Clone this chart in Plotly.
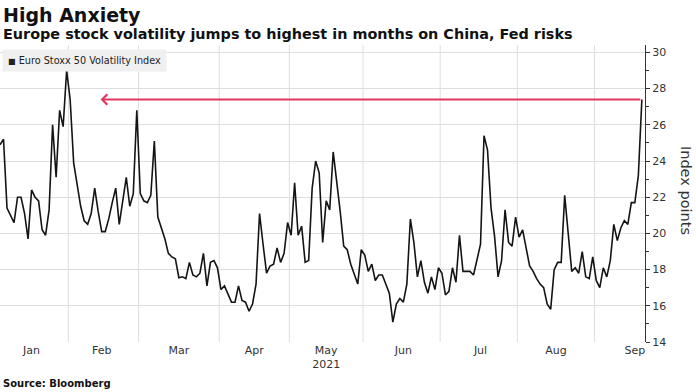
import pandas as pd
import plotly.graph_objects as go

# ---- data -------------------------------------------------------------
title_text = "High Anxiety"
subtitle_text = "Europe stock volatility jumps to highest in months on China, Fed risks"
series_name = "Euro Stoxx 50 Volatility Index"
source_text = "Source: Bloomberg"
y_title = "Index points"

# Eurex trading days Jan 4 - Sep 20, 2021 (Easter holidays removed)
holidays = ["2021-04-02", "2021-04-05"]
dates = [d for d in pd.bdate_range("2021-01-04", "2021-09-20")
         if d.strftime("%Y-%m-%d") not in holidays]

vstoxx = [
    24.9, 25.2, 21.4, 21.0, 20.6, 22.0, 22.0, 21.1, 19.7, 22.4,
    22.0, 21.8, 20.2, 19.9, 21.3, 26.0, 23.1, 26.8, 25.9, 29.0,
    27.4, 23.9, 22.8, 21.5, 20.7, 20.5, 21.1, 22.5, 21.2, 20.1,
    20.1, 20.8, 21.7, 22.5, 20.5, 21.9, 23.1, 21.5, 22.2, 26.8,
    22.2, 21.8, 21.7, 22.1, 25.1, 20.9, 20.3, 19.7, 18.9, 18.7,
    18.6, 17.55, 17.6, 17.5, 18.4, 17.7, 17.6, 17.8, 18.9, 17.1,
    18.4, 18.5, 18.1, 16.9, 17.1, 16.6, 16.2, 16.2, 17.1, 16.3,
    16.2, 15.7, 16.1, 17.2, 21.1, 19.4, 17.8, 18.2, 18.3, 19.2,
    18.4, 18.9, 20.6, 19.9, 22.8, 19.9, 20.4, 18.4, 18.5, 22.5,
    24.0, 23.35, 19.5, 21.8, 21.3, 24.5, 23.0, 21.2, 19.3, 19.1,
    18.3, 17.8, 17.2, 19.1, 18.8, 17.9, 18.3, 17.4, 17.7, 17.7,
    17.2, 16.7, 15.1, 16.1, 16.4, 16.2, 17.2, 20.8, 19.5, 17.6,
    18.5, 17.3, 16.7, 17.6, 16.9, 18.1, 17.8, 16.6, 16.8, 18.1,
    17.3, 19.9, 17.9, 17.9, 17.9, 17.7, 18.6, 19.4, 25.4, 24.6,
    21.4, 19.85, 17.6, 18.5, 21.3, 19.5, 19.3, 20.9, 19.8, 20.2,
    19.2, 18.2, 17.9, 17.5, 17.2, 17.0, 16.1, 15.8, 18.0, 18.4,
    18.4, 22.1, 20.0, 17.9, 18.1, 17.8, 19.0, 17.6, 17.5, 18.7,
    17.4, 17.0, 18.1, 17.6, 18.5, 20.5, 19.6, 20.3, 20.7, 20.5,
    21.7, 21.7, 23.2, 27.4,
]

month_labels = ["Jan", "Feb", "Mar", "Apr", "May<br>2021", "Jun", "Jul", "Aug", "Sep"]
month_label_dates = ["2021-01-15", "2021-02-12", "2021-03-16", "2021-04-16 12:00",
                     "2021-05-17", "2021-06-16", "2021-07-16", "2021-08-16 12:00",
                     "2021-09-16"]
y_ticks = [14, 16, 18, 20, 22, 24, 26, 28, 30]
arrow_tip_date = "2021-02-11 16:00"

# month boundaries: half a trading day after the last session of each month
month_ends = (pd.Series(dates).groupby([d.month for d in dates]).max()).tolist()[:-1]
month_grid = [(d + pd.Timedelta(hours=12)).strftime("%Y-%m-%d %H:%M") for d in month_ends]

RED = "#e2365e"
GRID = "#dedede"
FONT = "DejaVu Sans"
x_range = ["2021-01-04", "2021-09-20 21:30"]
breaks = [dict(bounds=["sat", "mon"]), dict(values=holidays)]

fig = go.Figure()
fig.add_trace(go.Scatter(
    x=dates, y=vstoxx, mode="lines", name=series_name,
    line=dict(color="#141414", width=1.6), showlegend=False,
))

# vertical month-boundary gridlines
for g in month_grid:
    fig.add_shape(type="line", xref="x", yref="paper", x0=g, x1=g, y0=0, y1=1,
                  line=dict(color=GRID, width=1), layer="between")

fig.update_layout(
    width=696, height=392, autosize=False,
    margin=dict(l=0, r=51, t=45, b=50),
    paper_bgcolor="white", plot_bgcolor="white",
    font=dict(family=FONT, size=11, color="#333333"),
    xaxis=dict(
        type="date", range=x_range, rangebreaks=breaks,
        tickmode="array", tickvals=month_label_dates, ticktext=month_labels,
        ticks="", showgrid=False, showline=False, zeroline=False,
        tickfont=dict(family=FONT, size=11, color="#333333"),
    ),
    yaxis=dict(
        side="right", range=[14, 30.41],
        tickmode="array", tickvals=y_ticks,
        ticks="outside", ticklen=4, tickcolor="#333333", tickwidth=1,
        showline=True, linecolor="#333333", linewidth=1,
        showgrid=True, gridcolor=GRID, gridwidth=1, zeroline=False,
        tickfont=dict(family=FONT, size=11, color="#333333"),
        minor=dict(dtick=1, tick0=14, ticks="outside", ticklen=3,
                   tickcolor="#333333", showgrid=False),
    ),
)

annotations = [
    dict(text="<b>" + title_text + "</b>", xref="paper", yref="paper",
         x=0, y=1.101, xanchor="left", yanchor="middle", xshift=1, showarrow=False,
         font=dict(family=FONT, size=19, color="#111111")),
    dict(text="<b>" + subtitle_text + "</b>", xref="paper", yref="paper",
         x=0, y=1.036, xanchor="left", yanchor="middle", xshift=1, showarrow=False,
         font=dict(family=FONT, size=14.4, color="#111111")),
    dict(text='<span style="font-size:8px">■</span> ' + series_name,
         xref="paper", yref="paper", x=0, y=0.948, xanchor="left", yanchor="middle",
         xshift=2, showarrow=False, bgcolor="#f0f0f0", borderpad=5,
         font=dict(family=FONT, size=9.7, color="#222222")),
    dict(text="<b>" + source_text + "</b>", xref="paper", yref="paper",
         x=0, y=-0.1397, xanchor="left", yanchor="middle", xshift=1, showarrow=False,
         font=dict(family=FONT, size=10, color="#111111")),
    dict(text=y_title, xref="paper", yref="paper", x=1, y=0.512,
         xanchor="center", yanchor="middle", xshift=41, textangle=90, showarrow=False,
         font=dict(family=FONT, size=14.5, color="#333333")),
    dict(text="", x=arrow_tip_date, y=vstoxx[-1], xref="x", yref="y",
         ax=dates[-1], ay=vstoxx[-1], axref="x", ayref="y",
         showarrow=True, arrowhead=4, arrowsize=1, arrowwidth=2,
         arrowcolor=RED, standoff=0, startstandoff=0),
]
fig.update_layout(annotations=annotations)

fig.write_html("out.html", config={"displayModeBar": False},
               post_script="document.body.style.margin='0';")
